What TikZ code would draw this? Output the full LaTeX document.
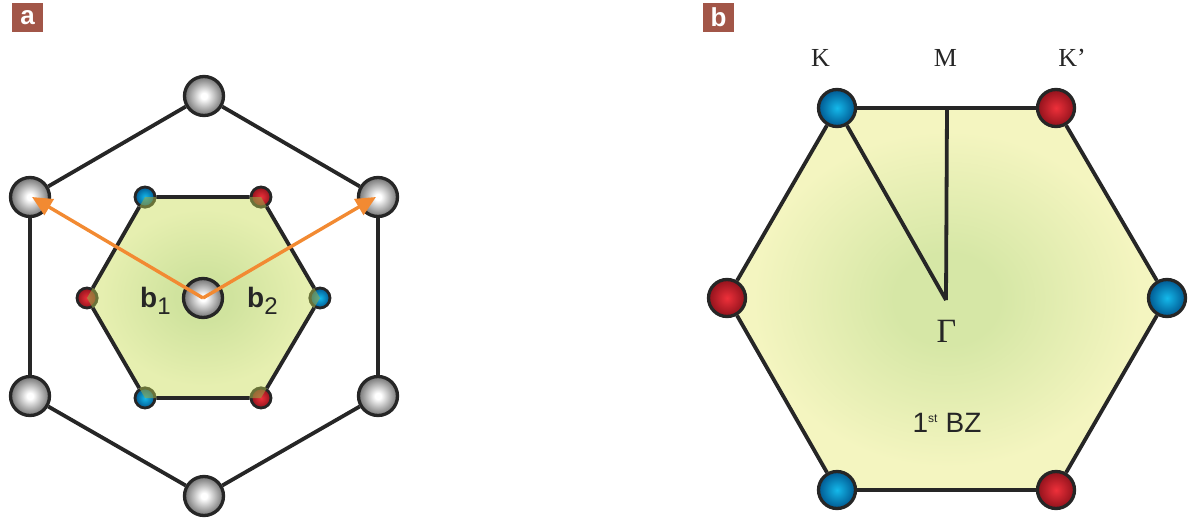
\documentclass[tikz,border=0pt]{standalone}
\usepackage{fontspec}
\setmainfont{Liberation Serif}
\setsansfont{Liberation Sans}
\usetikzlibrary{arrows.meta}
\definecolor{edgec}{RGB}{38,38,38}
\definecolor{lblbox}{RGB}{162,86,72}
\definecolor{arrc}{RGB}{242,138,50}
\definecolor{bzout}{RGB}{244,245,192}
\definecolor{bzin}{RGB}{214,231,166}
\definecolor{aout}{RGB}{230,239,176}
\definecolor{ain}{RGB}{208,227,158}
\definecolor{dotover}{RGB}{150,165,70}
\definecolor{bluei}{RGB}{20,185,235}
\definecolor{blueo}{RGB}{0,88,145}
\definecolor{redi}{RGB}{238,48,58}
\definecolor{redo}{RGB}{145,18,28}
\definecolor{grayo}{RGB}{115,115,115}
\pgfdeclareradialshading{bzsh}{\pgfpointorigin}{color(0bp)=(bzin); color(6bp)=(bzin); color(22bp)=(bzout); color(50bp)=(bzout)}
\pgfdeclareradialshading{ash}{\pgfpointorigin}{color(0bp)=(ain); color(6bp)=(ain); color(22bp)=(aout); color(50bp)=(aout)}
\pgfdeclareradialshading{gballsh}{\pgfpointorigin}{color(0bp)=(white); color(4bp)=(white); color(25bp)=(grayo); color(50bp)=(grayo)}
\tikzset{
  edgeline/.style={draw=edgec, line width=3.8pt},
  gball/.style={circle, draw=edgec, line width=3.3pt, minimum size=39pt, inner sep=0pt, shading=gballsh},
  bball/.style={circle, draw=edgec, line width=3.3pt, minimum size=37pt, inner sep=0pt, inner color=bluei, outer color=blueo},
  rball/.style={circle, draw=edgec, line width=3.3pt, minimum size=37pt, inner sep=0pt, inner color=redi, outer color=redo},
  bdot/.style={circle, draw=edgec, line width=2.8pt, minimum size=20pt, inner sep=0pt, inner color=bluei, outer color=blueo},
  rdot/.style={circle, draw=edgec, line width=2.8pt, minimum size=20pt, inner sep=0pt, inner color=redi, outer color=redo},
  tint/.style={fill=dotover, fill opacity=0.6},
  vecarrow/.style={draw=arrc, line width=3.4pt, -{Triangle[length=20pt,width=18pt]}},
  panelbox/.style={fill=lblbox, text=white, font=\sffamily\bfseries\fontsize{26}{26}\selectfont, minimum width=31pt, minimum height=29pt, inner sep=0pt},
  seriflbl/.style={text=edgec, font=\fontsize{26}{26}\selectfont, inner sep=0pt},
}
\begin{document}
\begin{tikzpicture}[x=1pt,y=-1pt]
\useasboundingbox (0,0) rectangle (1197,525);
% ---------- panel a ----------
\node[panelbox] (labela) at (27.5,17.5) {a};
\coordinate (pa-tl) at (145,197);
\coordinate (pa-tr) at (261,197);
\coordinate (pa-r) at (320,298);
\coordinate (pa-br) at (261,398);
\coordinate (pa-bl) at (145,398);
\coordinate (pa-l) at (87,298);
\shade[shading=ash] (pa-tl) -- (pa-tr) -- (pa-r) -- (pa-br) -- (pa-bl) -- (pa-l) -- cycle;
\node[bdot] (tl) at (pa-tl) {};
\node[rdot] (tr) at (pa-tr) {};
\node[bdot] (r) at (pa-r) {};
\node[rdot] (br) at (pa-br) {};
\node[bdot] (bl) at (pa-bl) {};
\node[rdot] (l) at (pa-l) {};
\begin{scope}
\clip (pa-tl) -- (pa-tr) -- (pa-r) -- (pa-br) -- (pa-bl) -- (pa-l) -- cycle;
\foreach \d in {tl,tr,r,br,bl,l} {\fill[tint] (\d.center) circle[radius=11.6pt];}
\end{scope}
\draw[edgeline] (tl) -- (tr) -- (r) -- (br) -- (bl) -- (l) -- (tl);
\node[gball] (ot) at (204,96) {};
\node[gball] (our) at (378,197) {};
\node[gball] (olr) at (378,396) {};
\node[gball] (ob) at (204,496) {};
\node[gball] (oll) at (30,396) {};
\node[gball] (oul) at (30,197) {};
\draw[edgeline] (ot) -- (our) -- (olr) -- (ob) -- (oll) -- (oul) -- (ot);
\node[gball] (c) at (203,298) {};
\draw[vecarrow] (c.center) -- ([xshift=2pt]oul.center);
\draw[vecarrow] (c.center) -- ([xshift=-2pt]our.center);
\node[anchor=base west, inner sep=0pt, text=edgec, font=\sffamily] (b1) at (140,307) {{\bfseries\fontsize{28}{28}\selectfont b}\raisebox{-7pt}{\fontsize{24}{24}\selectfont 1}};
\node[anchor=base west, inner sep=0pt, text=edgec, font=\sffamily] (b2) at (247,307) {{\bfseries\fontsize{28}{28}\selectfont b}\raisebox{-7pt}{\fontsize{24}{24}\selectfont 2}};
% ---------- panel b ----------
\node[panelbox] (labelb) at (718.5,17.5) {b};
\coordinate (pb-k) at (837,108);
\coordinate (pb-kp) at (1056,108);
\coordinate (pb-r) at (1167,298);
\coordinate (pb-br) at (1056,490);
\coordinate (pb-bl) at (837,490);
\coordinate (pb-l) at (727,298);
\coordinate (mtop) at (947,108);
\coordinate (gam) at (946,300);
\shade[shading=bzsh] (pb-k) -- (pb-kp) -- (pb-r) -- (pb-br) -- (pb-bl) -- (pb-l) -- cycle;
\node[bball] (K) at (pb-k) {};
\node[rball] (Kp) at (pb-kp) {};
\node[bball] (R) at (pb-r) {};
\node[rball] (BR) at (pb-br) {};
\node[bball] (BL) at (pb-bl) {};
\node[rball] (L) at (pb-l) {};
\draw[edgeline] (K) -- (Kp) -- (R) -- (BR) -- (BL) -- (L) -- (K);
\draw[edgeline, line join=miter] (mtop) -- (gam);
\draw[edgeline, line join=miter] (K) -- (gam);
\node[seriflbl, anchor=base] (tK) at (820.5,66.5) {K};
\node[seriflbl, anchor=base] (tM) at (945.5,66.5) {M};
\node[seriflbl, anchor=base] (tKp) at (1072,66.5) {K’};
\node[text=edgec, inner sep=0pt, anchor=base, font=\fontsize{34}{34}\selectfont] (tG) at (946.5,342) {Γ};
\node[anchor=base, inner sep=0pt, text=edgec, font=\sffamily\fontsize{28}{28}\selectfont] (tBZ) at (947,432) {1\textsuperscript{\fontsize{12}{12}\selectfont st} BZ};
\end{tikzpicture}
\end{document}
